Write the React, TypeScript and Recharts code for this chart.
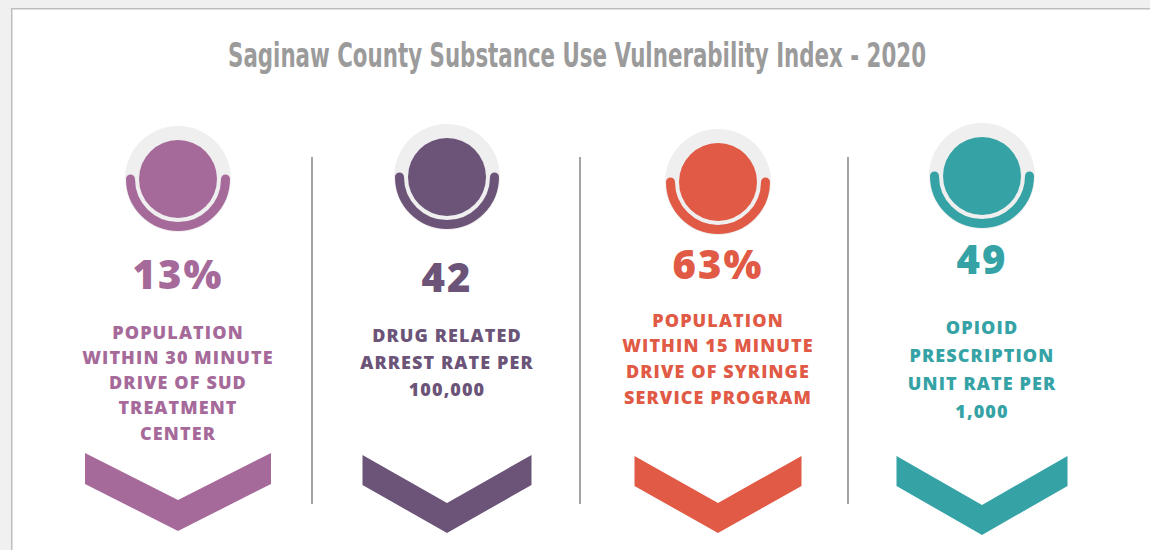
import React, { useEffect } from 'react';
import { BarChart, Bar, XAxis, YAxis } from 'recharts';

const TITLE = 'Saginaw County Substance Use Vulnerability Index - 2020';

const categories = ['SUD treatment access', 'Drug arrests', 'Syringe service access', 'Opioid prescriptions'];
const values = [13, 42, 63, 49];
const valueLabels = ['13%', '42', '63%', '49'];
const descriptions: string[][] = [
  ['POPULATION', 'WITHIN 30 MINUTE', 'DRIVE OF SUD', 'TREATMENT', 'CENTER'],
  ['DRUG RELATED', 'ARREST RATE PER', '100,000'],
  ['POPULATION', 'WITHIN 15 MINUTE', 'DRIVE OF SYRINGE', 'SERVICE PROGRAM'],
  ['OPIOID', 'PRESCRIPTION', 'UNIT RATE PER', '1,000'],
];

const colors = ['#a66a9a', '#6b5478', '#e05a45', '#35a3a5'];

// per-column layout (positions / sizes only)
const layout = [
  { dx: 0, iconY: 179, numY: 274, textY: 332, gap: 25.3, chevTop: 453, chevHalf: 93, chevDepth: 47, chevThick: 31 },
  { dx: 1, iconY: 177, numY: 277, textY: 335, gap: 27, chevTop: 455, chevHalf: 84.5, chevDepth: 48, chevThick: 30 },
  { dx: 4, iconY: 182, numY: 264, textY: 320, gap: 25.7, chevTop: 456, chevHalf: 83.5, chevDepth: 47, chevThick: 30 },
  { dx: 0, iconY: 176, numY: 259, textY: 327, gap: 28, chevTop: 456, chevHalf: 85.5, chevDepth: 49, chevThick: 30 },
];

const data = categories.map((name, i) => ({ name, value: values[i] }));

const NUM_FONT = "'Open Sans', 'DejaVu Sans', sans-serif";

const renderColumn = (props: any) => {
  const { x, width, payload } = props;
  const i = categories.indexOf(payload.name);
  const L = layout[i];
  const color = colors[i];
  const bandCx = x + width / 2;
  const cx = bandCx + L.dx;
  const cy = L.iconY;
  const rArc = 47.5;
  const t = L.chevTop;
  const w = L.chevHalf;
  const d = L.chevDepth;
  const h = L.chevThick;
  const chev = [
    [cx - w, t],
    [cx, t + d],
    [cx + w, t],
    [cx + w, t + h],
    [cx, t + d + h],
    [cx - w, t + h],
  ]
    .map((p) => p.join(','))
    .join(' ');
  return (
    <g>
      {i > 0 && (
        <line x1={x} x2={x} y1={157} y2={504} stroke="#9a9a9a" strokeWidth={1.8} />
      )}
      <circle cx={cx} cy={cy} r={53} fill="#efefef" />
      <circle cx={cx} cy={cy} r={39} fill={color} />
      <path
        d={`M ${cx - rArc} ${cy} A ${rArc} ${rArc} 0 0 0 ${cx + rArc} ${cy}`}
        fill="none"
        stroke={color}
        strokeWidth={9}
        strokeLinecap="round"
      />
      <text
        x={cx}
        y={L.numY + 14.5}
        textAnchor="middle"
        fill={color}
        fontFamily={NUM_FONT}
        fontWeight={800}
        fontSize={40}
        letterSpacing={2}
      >
        {valueLabels[i]}
      </text>
      {descriptions[i].map((line, k) => (
        <text
          key={k}
          x={cx}
          y={L.textY + k * L.gap + 6.5}
          textAnchor="middle"
          fill={color}
          fontFamily={NUM_FONT}
          fontWeight={800}
          fontSize={18}
          letterSpacing={1.1}
        >
          {line}
        </text>
      ))}
      <polygon points={chev} fill={color} />
    </g>
  );
};

export default function App() {
  useEffect(() => {
    document.documentElement.style.overflow = 'hidden';
    document.body.style.overflow = 'hidden';
    document.body.style.margin = '0';
  }, []);
  return (
    <div
      style={{
        position: 'absolute',
        left: 0,
        top: 0,
        width: 1150,
        height: 550,
        background: '#ffffff',
        overflow: 'hidden',
      }}
    >
      <style>{'html, body { margin: 0; overflow: hidden; } ::-webkit-scrollbar { display: none; width: 0; height: 0; }'}</style>
      <svg width={1150} height={550} style={{ position: 'absolute', left: 0, top: 0 }}>
        <rect x={0} y={0} width={1150} height={8} fill="#f0f0f0" />
        <rect x={0} y={0} width={11} height={550} fill="#f0f0f0" />
        <line x1={11.75} x2={1150} y1={8.75} y2={8.75} stroke="#bdbdbd" strokeWidth={1.5} />
        <line x1={11.75} x2={11.75} y1={8} y2={550} stroke="#bdbdbd" strokeWidth={1.5} />
        <text
          x={577}
          y={67}
          textAnchor="middle"
          fill="#9b9b9b"
          fontFamily="'Liberation Sans Narrow', 'DejaVu Sans Condensed', 'Open Sans', sans-serif"
          fontWeight={700}
          fontSize={33}
          textLength={698}
          lengthAdjust="spacingAndGlyphs"
        >
          {TITLE}
        </text>
      </svg>
      <div style={{ position: 'absolute', left: 0, top: 0 }}>
        <BarChart
          width={1150}
          height={550}
          data={data}
          margin={{ top: 0, right: 34, left: 44, bottom: 0 }}
          barCategoryGap={0}
        >
          <XAxis dataKey="name" hide />
          <YAxis hide domain={[0, 100]} />
          <Bar dataKey="value" shape={renderColumn} isAnimationActive={false} />
        </BarChart>
      </div>
    </div>
  );
}
